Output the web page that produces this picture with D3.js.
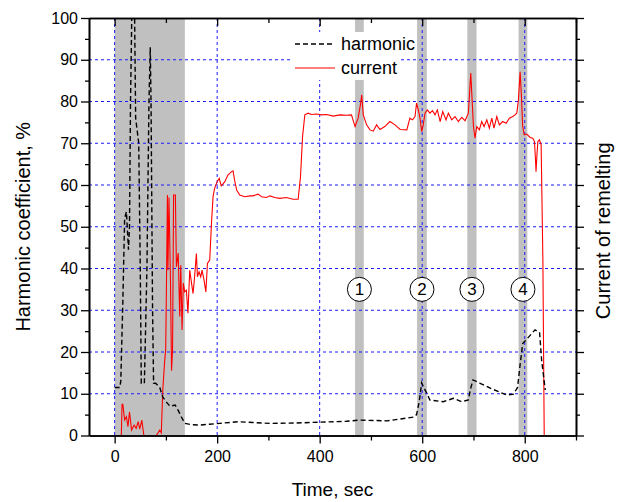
<!DOCTYPE html>
<html>
<head>
<meta charset="utf-8">
<script src="https://cdn.jsdelivr.net/npm/d3@7"></script>
<style>
  body { margin: 0; background: #fff; }
  svg { display: block; font-family: "Liberation Sans", Arial, sans-serif; }
</style>
</head>
<body>
<svg width="621" height="502"></svg>
<script>
"use strict";

// harmonic coefficient, %
const harmonicTime = [0, 4, 10, 12, 16, 19.5, 23, 27, 29, 31, 34, 37, 39, 41, 44, 47, 50, 52, 58, 63, 67, 69.5, 71, 74, 76,
  80, 88, 94, 101, 108, 118, 124, 130, 137, 150, 166, 185, 205, 240, 270, 303, 355, 400, 452, 478, 531, 583, 589, 594,
  599, 603, 609, 615, 641, 661, 677, 690, 694, 699, 713, 739, 765, 778, 786, 791, 796, 807, 820, 829, 833, 840];
const harmonicValue = [11.5, 11.5, 11.5, 13, 32, 52, 53.6, 44.5, 50, 80, 105, 112, 100, 76, 73, 70, 40, 12.5, 12.5, 40, 80, 93, 80, 30, 12.5,
  12.5, 11.5, 9.2, 8, 7, 7.3, 6, 4.5, 2.9, 2.6, 2.5, 2.7, 2.9, 3.3, 3.1, 2.9, 3, 3.2, 3.4, 3.7, 3.5, 4.4, 5, 8,
  12.6, 11.5, 10.1, 8.5, 8.1, 8.9, 8.1, 8.5, 11, 13.3, 12.5, 11, 9.7, 9.9, 11.5, 17, 22, 23.5, 25.3, 24.6, 18, 10.9];

// current of remelting
const currentTime = [0, 13, 14.5, 16, 19.5, 23, 26, 29, 33, 38, 42, 46, 49, 53, 57, 81, 85, 88, 91, 94, 97.7, 99.6, 101, 103,
  104, 106, 109, 111, 113, 115, 118.5, 120.5, 124, 127, 129, 131.5, 134, 136.7, 140, 143, 146.5, 150, 153, 156, 159.5,
  161.5, 164.6, 168, 170.5, 174.4, 178, 181, 185.5, 189, 192, 195, 200, 204, 208, 215, 221, 228, 231, 234, 238, 244,
  254, 264, 270, 280, 286.5, 296, 303, 312.5, 322, 335, 348, 358, 362.6, 366.6, 371, 377.6, 384, 394, 404, 413.5, 426.5,
  439.5, 452.5, 462, 469, 475, 480, 482, 485, 491.6, 498, 504.5, 511, 517.6, 527, 537, 547, 557, 570, 576, 581, 586,
  589, 592.4, 595.7, 599, 602, 605.5, 610, 615, 620, 625, 629.5, 635, 640, 646.5, 651, 657.6, 664, 670.5, 677, 683.6,
  690, 692, 694.7, 697, 700, 703, 706.4, 711.5, 716, 720.7, 726, 731, 735.7, 740, 745.5, 750.6, 757, 763.7, 770, 776.7,
  781, 784.5, 787.7, 791, 793.6, 796, 799, 804, 810.5, 815.6, 819, 821, 822, 823.6, 825.6, 828.7, 832, 835.4, 838, 843];
const currentValue = [0, 0, 7.5, 7.5, 3.7, 4.5, 2.1, 5.7, 1.3, 2.5, 1.7, 3.3, 1.5, 3.7, 0, 0, 0.7, 1.3, 0.6, 11, 18, 20.5, 35, 57.6,
  39.6, 57, 36.5, 15.5, 20.5, 57.6, 57.6, 40.4, 43.7, 28.5, 40.8, 25.3, 36.5, 34.4, 34.8, 29.3, 39.6, 36.5, 34, 38, 43.6,
  38, 39.2, 38, 39.6, 37.2, 34.4, 41.2, 42, 51, 57.2, 59.2, 60.8, 61.6, 59.8, 60.8, 62.4, 63.2, 63.4, 61.2, 58.8, 57.6,
  57.2, 57.4, 57.4, 57.8, 57.2, 57, 57.4, 57, 56.8, 57, 56.6, 56.6, 62, 71.6, 76.8, 77.2, 76.9, 77, 76.8, 76.9, 76.5,
  76.8, 76.7, 76.8, 74, 76, 79.6, 81.6, 76.8, 74.4, 73.2, 72.9, 74.4, 73.3, 74, 75.2, 74.4, 73.3, 73.2, 76, 75.6, 76.4,
  79.6, 78, 76, 72.8, 74.4, 77.2, 78, 77.2, 77.8, 76.8, 78, 75.2, 77.6, 75.6, 77.2, 75.6, 76.4, 75.2, 76.2, 75.4,
  77.2, 81.2, 86.8, 81.2, 74, 71.2, 74, 73.2, 75.2, 74, 75.6, 73.6, 76, 73.6, 76.4, 74.4, 75.2, 74.8, 76, 76.4,
  76.8, 77.2, 80.4, 87.1, 81.2, 74, 72, 72.2, 71.4, 71.2, 70.4, 66, 63.2, 66.8, 70.4, 70.8, 69.6, 42, 0, 0];

// shaded intervals and numbered events
const bandStart = [0, 469, 590, 688, 788];
const bandEnd = [137, 486, 609, 706, 805];
const eventTime = [477.5, 599.5, 697, 796.5];
const eventLabel = ["1", "2", "3", "4"];
const eventLevel = 35;

const xTicks = [0, 200, 400, 600, 800];
const xMinorTicks = [100, 300, 500, 700, 900];
const yTicks = [0, 10, 20, 30, 40, 50, 60, 70, 80, 90, 100];
const yMinorTicks = [5, 15, 25, 35, 45, 55, 65, 75, 85, 95];
const gridY = [10, 20, 30, 40, 50, 60, 70, 80, 90];

let svg = d3.select("svg");
let x = d3.scaleLinear().domain([-50, 900]).range([89, 576]);
let y = d3.scaleLinear().domain([0, 100]).range([435.5, 18]);
let pLeft = x(-50), pRight = x(900), pTop = y(100), pBottom = y(0);

svg.append("clipPath").attr("id", "plot")
  .append("rect")
  .attr("x", pLeft).attr("y", pTop)
  .attr("width", pRight - pLeft).attr("height", pBottom - pTop);

let g = svg.append("g").attr("clip-path", "url(#plot)");

g.selectAll("rect.band")
  .data(bandStart)
  .enter().append("rect")
  .attr("class", "band")
  .attr("x", d => x(d))
  .attr("width", (d, i) => x(bandEnd[i]) - x(d))
  .attr("y", pTop)
  .attr("height", pBottom - pTop)
  .attr("fill", "#c0c0c0");

g.selectAll("line.gy")
  .data(gridY)
  .enter().append("line")
  .attr("x1", pLeft).attr("x2", pRight)
  .attr("y1", d => y(d)).attr("y2", d => y(d))
  .attr("stroke", "#1a1aff").attr("stroke-width", 1).attr("stroke-dasharray", "3,3");

g.selectAll("line.gx")
  .data(xTicks)
  .enter().append("line")
  .attr("x1", d => x(d)).attr("x2", d => x(d))
  .attr("y1", pTop).attr("y2", pBottom)
  .attr("stroke", "#1a1aff").attr("stroke-width", 1).attr("stroke-dasharray", "3,3");

let line = d3.line().x(d => x(d[0])).y(d => y(d[1]));

g.append("path")
  .datum(currentTime.map((t, i) => [t, currentValue[i]]))
  .attr("d", line)
  .attr("fill", "none")
  .attr("stroke", "#ff0000")
  .attr("stroke-width", 1.1);

g.append("path")
  .datum(harmonicTime.map((t, i) => [t, harmonicValue[i]]))
  .attr("d", line)
  .attr("fill", "none")
  .attr("stroke", "#000")
  .attr("stroke-width", 1.4)
  .attr("stroke-dasharray", "5,3");

let ev = g.selectAll("g.event")
  .data(eventTime)
  .enter().append("g")
  .attr("transform", d => "translate(" + x(d) + "," + y(eventLevel) + ")");
ev.append("circle")
  .attr("r", 12)
  .attr("fill", "#fff")
  .attr("stroke", "#000")
  .attr("stroke-width", 1);
ev.append("text")
  .attr("text-anchor", "middle")
  .attr("y", 6)
  .attr("font-size", 17)
  .text((d, i) => eventLabel[i]);

// legend
let lg = svg.append("g");
lg.append("rect")
  .attr("x", 290).attr("y", 32).attr("width", 108).attr("height", 48)
  .attr("fill", "#fff");
lg.append("line")
  .attr("x1", 295).attr("x2", 335).attr("y1", 44).attr("y2", 44)
  .attr("stroke", "#000").attr("stroke-width", 1.4).attr("stroke-dasharray", "5,3");
lg.append("line")
  .attr("x1", 295).attr("x2", 335).attr("y1", 68).attr("y2", 68)
  .attr("stroke", "#ff0000").attr("stroke-width", 1.1);
lg.append("text").attr("x", 341).attr("y", 50).attr("font-size", 18).text("harmonic");
lg.append("text").attr("x", 341).attr("y", 74).attr("font-size", 18).text("current");

// axes
function styleAxis(sel) {
  sel.select(".domain").attr("stroke", "#000").attr("stroke-width", 1.6);
  sel.selectAll(".tick line").attr("stroke", "#000").attr("stroke-width", 1.3);
  sel.selectAll(".tick text").attr("fill", "#000").attr("font-size", 16)
    .attr("font-family", "'Liberation Sans', Arial, sans-serif");
}

svg.append("g").attr("transform", "translate(0," + pBottom + ")")
  .call(d3.axisBottom(x).tickValues(xTicks).tickSize(8).tickPadding(7).tickSizeOuter(0))
  .call(styleAxis);
svg.append("g").attr("transform", "translate(0," + pBottom + ")")
  .call(d3.axisBottom(x).tickValues(xMinorTicks).tickSize(5).tickFormat("").tickSizeOuter(0))
  .call(styleAxis);
svg.append("g").attr("transform", "translate(0," + pTop + ")")
  .call(d3.axisTop(x).tickValues(xTicks).tickSize(-8).tickFormat("").tickSizeOuter(0))
  .call(styleAxis);
svg.append("g").attr("transform", "translate(0," + pTop + ")")
  .call(d3.axisTop(x).tickValues(xMinorTicks).tickSize(-5).tickFormat("").tickSizeOuter(0))
  .call(styleAxis);

svg.append("g").attr("transform", "translate(" + pLeft + ",0)")
  .call(d3.axisLeft(y).tickValues(yTicks).tickSize(8).tickPadding(3).tickSizeOuter(0))
  .call(styleAxis);
svg.append("g").attr("transform", "translate(" + pLeft + ",0)")
  .call(d3.axisLeft(y).tickValues(yMinorTicks).tickSize(4).tickFormat("").tickSizeOuter(0))
  .call(styleAxis);
svg.append("g").attr("transform", "translate(" + pRight + ",0)")
  .call(d3.axisRight(y).tickValues(yTicks).tickSize(8).tickFormat("").tickSizeOuter(0))
  .call(styleAxis);
svg.append("g").attr("transform", "translate(" + pRight + ",0)")
  .call(d3.axisRight(y).tickValues(yMinorTicks).tickSize(4).tickFormat("").tickSizeOuter(0))
  .call(styleAxis);

svg.append("text")
  .attr("x", (pLeft + pRight) / 2).attr("y", 496)
  .attr("text-anchor", "middle").attr("font-size", 19)
  .text("Time, sec");
svg.append("text")
  .attr("transform", "translate(30," + ((pTop + pBottom) / 2) + ") rotate(-90)")
  .attr("text-anchor", "middle").attr("font-size", 20)
  .text("Harmonic coefficient, %");
svg.append("text")
  .attr("transform", "translate(610," + ((pTop + pBottom) / 2 + 4) + ") rotate(-90)")
  .attr("text-anchor", "middle").attr("font-size", 20)
  .text("Current of remelting");
</script>
</body>
</html>
